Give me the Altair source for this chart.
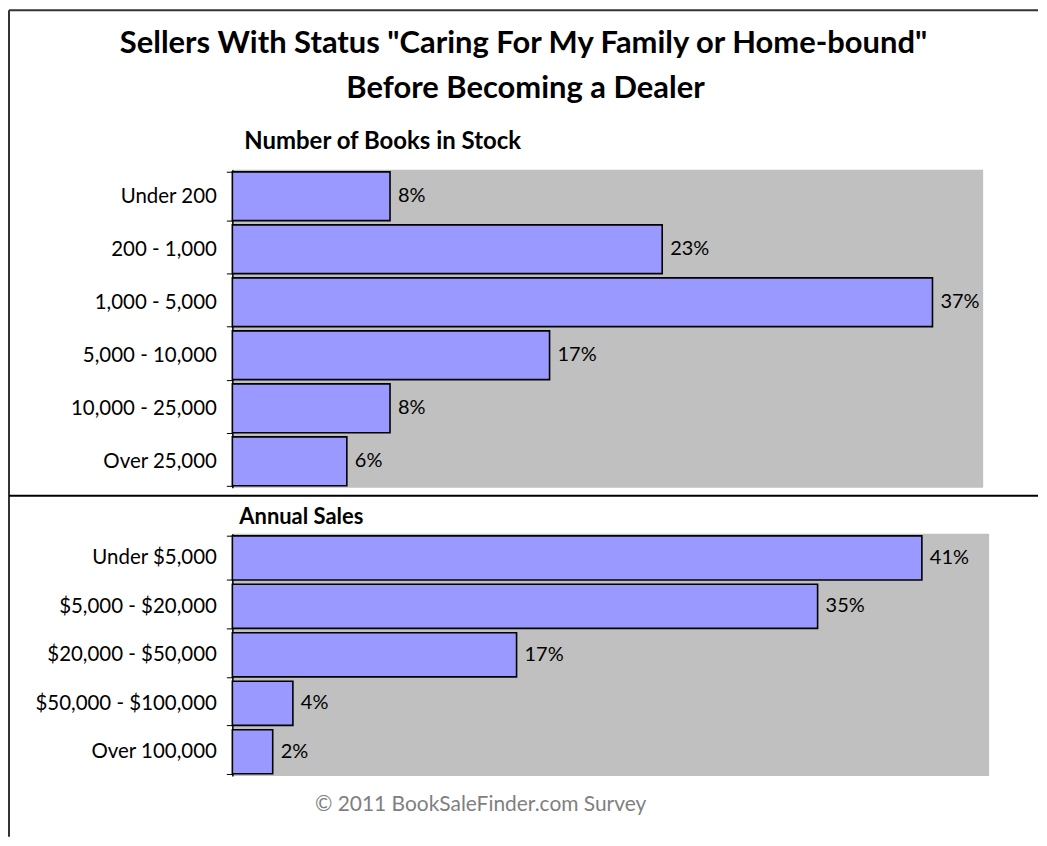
import altair as alt
import pandas as pd

# ---- data ----
stock_cats = ["Under 200", "200 - 1,000", "1,000 - 5,000", "5,000 - 10,000",
              "10,000 - 25,000", "Over 25,000"]
stock_vals = [8.4, 22.9, 37.3, 16.9, 8.4, 6.1]

sales_cats = ["Under $5,000", "$5,000 - $20,000", "$20,000 - $50,000",
              "$50,000 - $100,000", "Over 100,000"]
sales_vals = [41.0, 34.8, 16.9, 3.6, 2.4]

title_lines = ['Sellers With Status "Caring For My Family or Home-bound"',
               "Before Becoming a Dealer"]
panel_titles = ["Number of Books in Stock", "Annual Sales"]
footer = "\u00a9 2011 BookSaleFinder.com Survey"

FONT = "Lato"
BAR = "#9999FF"

stock_df = pd.DataFrame({"cat": stock_cats, "value": stock_vals})
sales_df = pd.DataFrame({"cat": sales_cats, "value": sales_vals})
one = pd.DataFrame({"k": [0]})


def panel(df, cats, xmax, pin, pout):
    base = alt.Chart(df).transform_calculate(
        label="format(datum.value, '.0f') + '%'"
    )
    y = alt.Y(
        "cat:N", sort=cats,
        scale=alt.Scale(paddingInner=pin, paddingOuter=pout),
        axis=alt.Axis(title=None, tickBand="extent", tickSize=6, tickColor="black",
                      tickWidth=1, domainColor="black", domainWidth=1.5,
                      labelFont=FONT, labelFontSize=20.5, labelColor="black",
                      labelPadding=10, labelLimit=300),
    )
    x = alt.X("value:Q", scale=alt.Scale(domain=[0, xmax], nice=False), axis=None)
    bars = base.mark_bar(color=BAR, stroke="black", strokeWidth=1.6).encode(x=x, y=y)
    text = base.mark_text(align="left", baseline="middle", dx=8, font=FONT,
                          fontSize=20, color="black").encode(x=x, y=y, text="label:N")
    return bars, text


# top panel
b1, t1 = panel(stock_df, stock_cats, 40, 0.08, 0.04)
deco = alt.Chart(one)
top_border = deco.mark_rule(color="#333333", strokeWidth=2).encode(
    x=alt.value(-224), x2=alt.value(808), y=alt.value(-160))
left_border = deco.mark_rule(color="#333333", strokeWidth=2).encode(
    x=alt.value(-224), y=alt.value(-160), y2=alt.value(669))
divider = deco.mark_rule(color="black", strokeWidth=2).encode(
    x=alt.value(-224), x2=alt.value(808), y=alt.value(327))
title1 = deco.mark_text(text=title_lines[0], font=FONT, fontSize=31, fontWeight="bold",
                        align="center", baseline="alphabetic", color="black").encode(
    x=alt.value(292), y=alt.value(-117))
title2 = deco.mark_text(text=title_lines[1], font=FONT, fontSize=31, fontWeight="bold",
                        align="center", baseline="alphabetic", color="black").encode(
    x=alt.value(294), y=alt.value(-72))
sub1 = deco.mark_text(text=panel_titles[0], font=FONT, fontSize=24, fontWeight="bold",
                      align="left", baseline="alphabetic", color="black").encode(
    x=alt.value(12), y=alt.value(-21))

top = alt.layer(b1, t1, top_border, left_border, divider, title1, title2, sub1).properties(
    width=753, height=319)

# bottom panel
b2, t2 = panel(sales_df, sales_cats, 45, 0.09, 0.045)
sub2 = deco.mark_text(text=panel_titles[1], font=FONT, fontSize=22, fontWeight="bold",
                      align="left", baseline="alphabetic", color="black").encode(
    x=alt.value(7), y=alt.value(-10))
foot = deco.mark_text(text=footer, font=FONT, fontSize=21, align="center",
                      baseline="alphabetic", color="#7F7F7F").encode(
    x=alt.value(249), y=alt.value(278))

bottom = alt.layer(b2, t2, sub2, foot).properties(width=759, height=243)

chart = alt.vconcat(top, bottom, spacing=46, bounds="flush").properties(
    padding=0, background="white"
).configure_view(fill="#C0C0C0", stroke=None)

chart.save("out.html", embed_options={"renderer": "svg", "actions": False})
